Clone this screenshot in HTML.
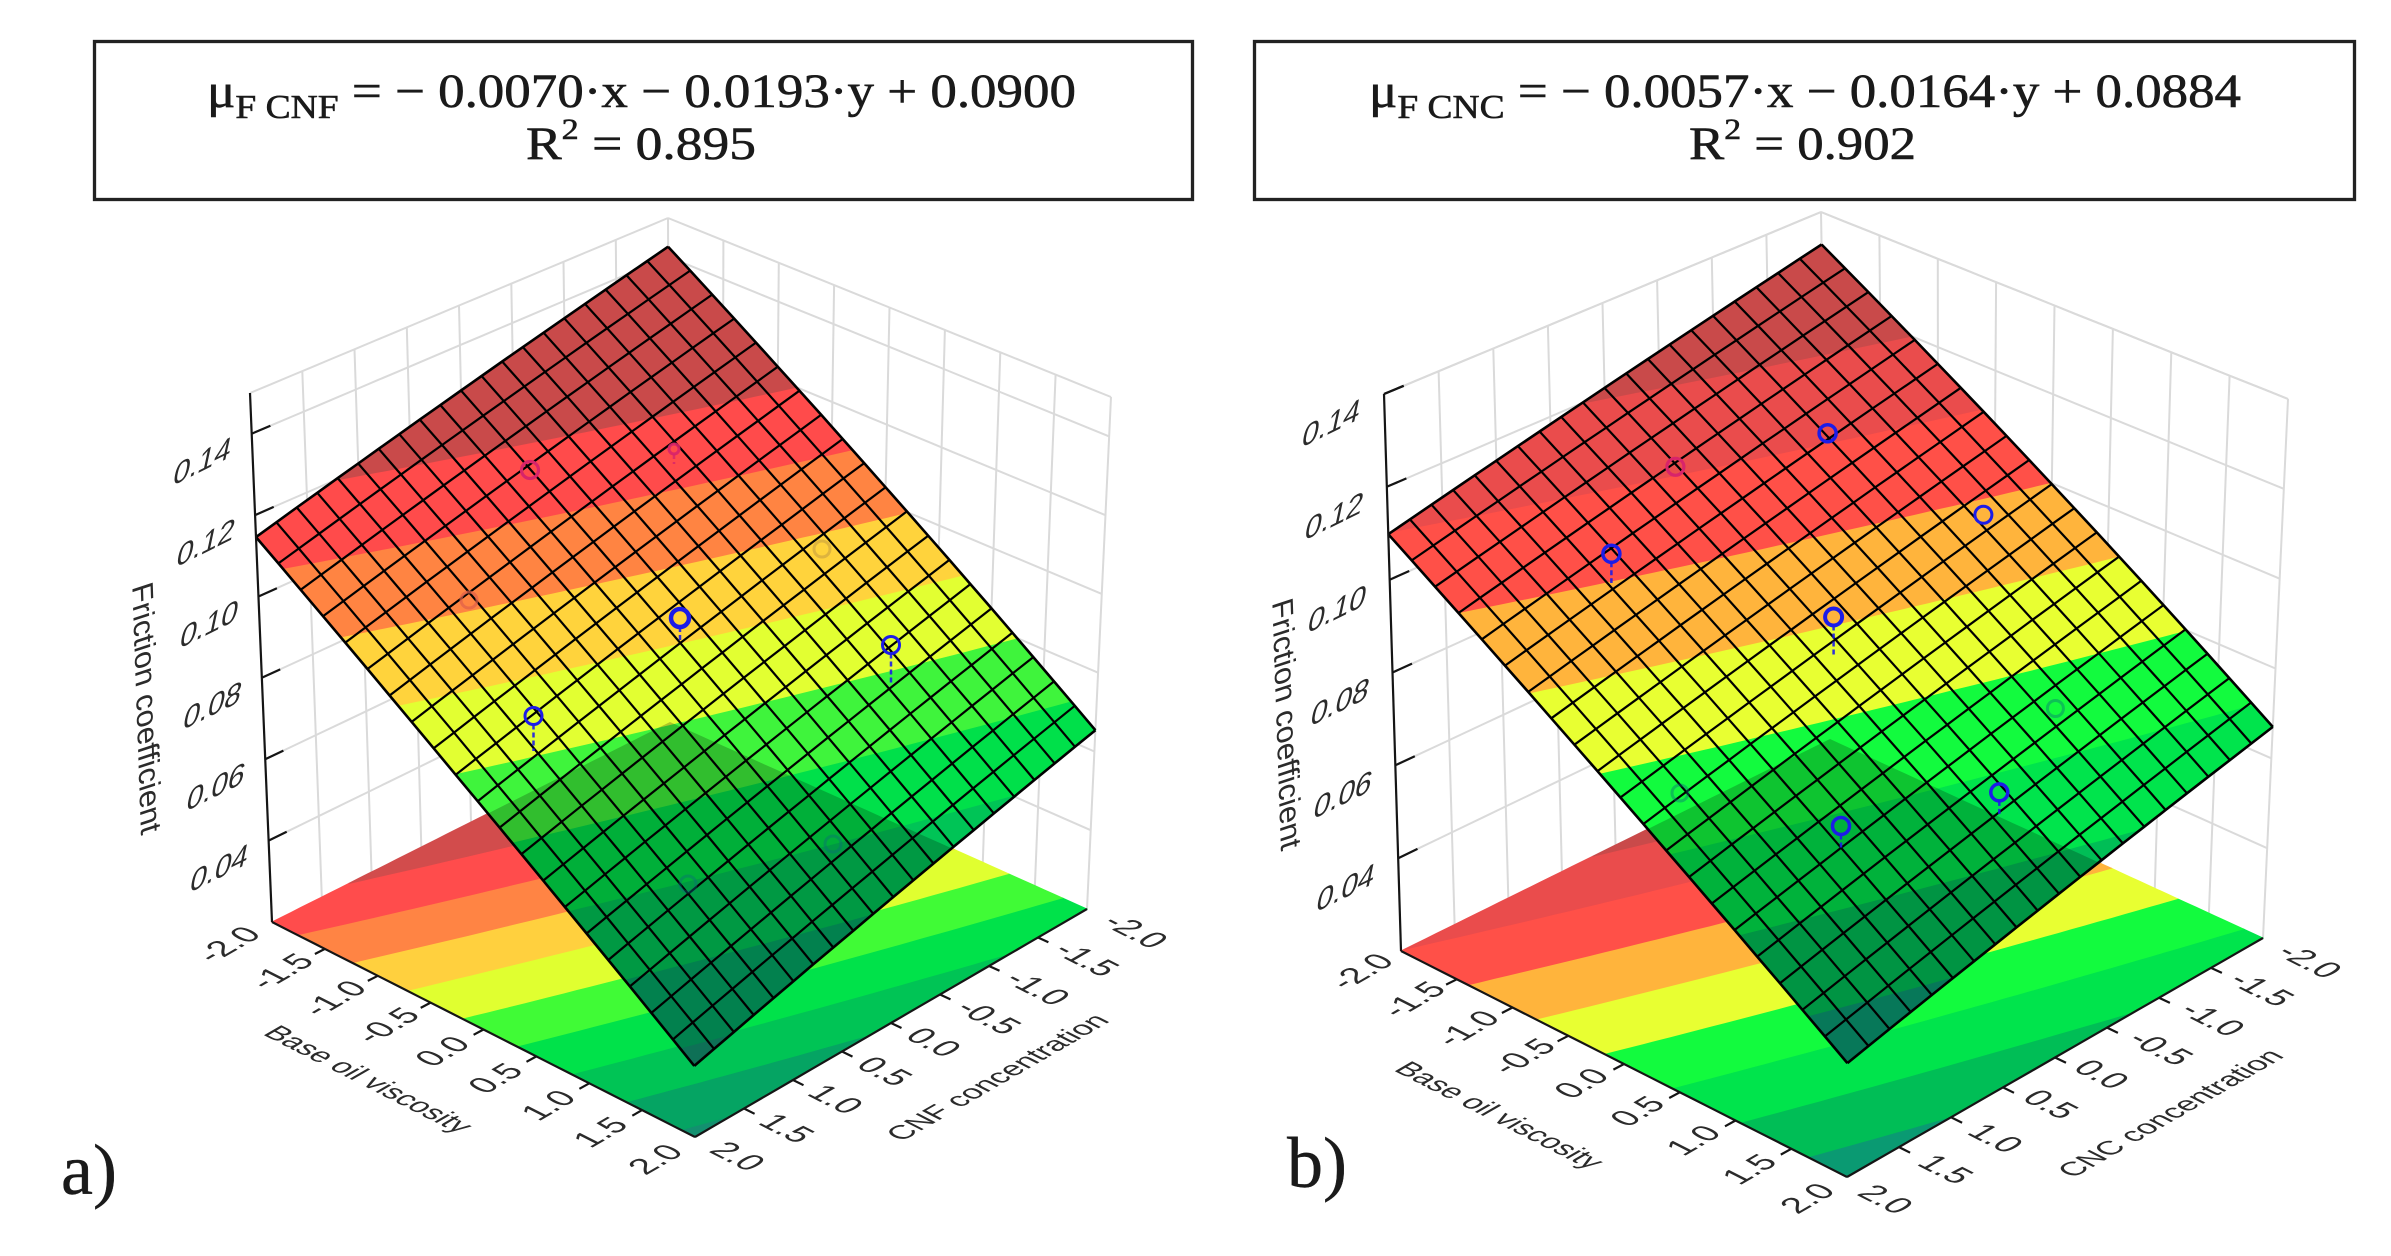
<!DOCTYPE html>
<html><head><meta charset="utf-8">
<style>
html,body{margin:0;padding:0;background:#fff;width:2391px;height:1256px;overflow:hidden;}
svg{display:block}
.tk{font-family:"Liberation Sans",Arial,sans-serif;font-size:33px;fill:#2b2b2b;}
.eq{font-family:"Liberation Serif","Times New Roman",serif;fill:#1a1a1a;stroke:#1a1a1a;stroke-width:0.6;white-space:pre;}
</style></head>
<body>
<svg id="s" width="2391" height="1256" viewBox="0 0 2391 1256" xmlns="http://www.w3.org/2000/svg">
<rect x="0" y="0" width="2391" height="1256" fill="#fff"/>
<g id="plotA"></g>
<g id="plotB"></g>

<!-- Equation boxes -->
<rect x="94.5" y="41.5" width="1098" height="158" fill="none" stroke="#222" stroke-width="3.3"/>
<rect x="1254.5" y="41.5" width="1100" height="158" fill="none" stroke="#222" stroke-width="3.3"/>
<text class="eq" x="207" y="107" font-size="48" textLength="869" lengthAdjust="spacingAndGlyphs">μ<tspan font-size="34" dy="11">F CNF</tspan><tspan dy="-11"> = − 0.0070·x − 0.0193·y + 0.0900</tspan></text>
<text class="eq" x="526" y="159" font-size="47" textLength="230" lengthAdjust="spacingAndGlyphs">R<tspan font-size="30" dy="-20">2</tspan><tspan dy="20"> = 0.895</tspan></text>
<text class="eq" x="1369" y="107" font-size="48" textLength="872" lengthAdjust="spacingAndGlyphs">μ<tspan font-size="34" dy="11">F CNC</tspan><tspan dy="-11"> = − 0.0057·x − 0.0164·y + 0.0884</tspan></text>
<text class="eq" x="1689" y="159" font-size="47" textLength="227" lengthAdjust="spacingAndGlyphs">R<tspan font-size="30" dy="-20">2</tspan><tspan dy="20"> = 0.902</tspan></text>

<!-- panel labels -->
<text class="eq" x="61" y="1194" font-size="72" style="stroke-width:0.4">a)</text>
<text class="eq" x="1287" y="1187" font-size="72" style="stroke-width:0.4">b)</text>

<g id="labels" text-anchor="middle">
<!-- Panel A z tick labels -->
<text class="tk za" x="219.6" y="867.6" dy="0.35em">0.04</text>
<text class="tk za" x="216.2" y="786.2" dy="0.35em">0.06</text>
<text class="tk za" x="212.8" y="704.9" dy="0.35em">0.08</text>
<text class="tk za" x="209.5" y="623.5" dy="0.35em">0.10</text>
<text class="tk za" x="206.1" y="542.1" dy="0.35em">0.12</text>
<text class="tk za" x="202.7" y="460.7" dy="0.35em">0.14</text>
<text class="tk fr" x="147" y="708" dy="0.35em" style="font-size:31px">Friction coefficient</text>

<!-- Panel A viscosity ticks -->
<text class="tk ma" x="228" y="944" dy="0.35em">-2.0</text>
<text class="tk ma" x="281" y="971" dy="0.35em">-1.5</text>
<text class="tk ma" x="334" y="998" dy="0.35em">-1.0</text>
<text class="tk ma" x="387" y="1025" dy="0.35em">-0.5</text>
<text class="tk ma" x="442" y="1051" dy="0.35em">0.0</text>
<text class="tk ma" x="495" y="1078" dy="0.35em">0.5</text>
<text class="tk ma" x="548" y="1105" dy="0.35em">1.0</text>
<text class="tk ma" x="600" y="1132" dy="0.35em">1.5</text>
<text class="tk ma" x="655" y="1159" dy="0.35em">2.0</text>
<text class="tk mb" x="369" y="1079" dy="0.35em" style="font-size:29px">Base oil viscosity</text>

<!-- Panel A CNF ticks -->
<text class="tk mb" x="738" y="1156" dy="0.35em">2.0</text>
<text class="tk mb" x="787" y="1128" dy="0.35em">1.5</text>
<text class="tk mb" x="836" y="1099" dy="0.35em">1.0</text>
<text class="tk mb" x="885" y="1071" dy="0.35em">0.5</text>
<text class="tk mb" x="934" y="1042" dy="0.35em">0.0</text>
<text class="tk mb" x="989" y="1017" dy="0.35em">-0.5</text>
<text class="tk mb" x="1038" y="988" dy="0.35em">-1.0</text>
<text class="tk mb" x="1087" y="959" dy="0.35em">-1.5</text>
<text class="tk mb" x="1136" y="931" dy="0.35em">-2.0</text>
<text class="tk ma" x="997" y="1077" dy="0.35em" style="font-size:29px">CNF concentration</text>

<!-- Panel B z tick labels -->
<text class="tk zb" x="1346.1" y="887.1" dy="0.35em">0.04</text>
<text class="tk zb" x="1343.2" y="794.2" dy="0.35em">0.06</text>
<text class="tk zb" x="1340.3" y="701.3" dy="0.35em">0.08</text>
<text class="tk zb" x="1337.4" y="608.4" dy="0.35em">0.10</text>
<text class="tk zb" x="1334.5" y="515.5" dy="0.35em">0.12</text>
<text class="tk zb" x="1331.6" y="422.6" dy="0.35em">0.14</text>
<text class="tk fr" x="1287" y="724" dy="0.35em" style="font-size:31px">Friction coefficient</text>

<!-- Panel B viscosity ticks -->
<text class="tk ma" x="1361" y="971" dy="0.35em">-2.0</text>
<text class="tk ma" x="1413" y="999" dy="0.35em">-1.5</text>
<text class="tk ma" x="1467" y="1028" dy="0.35em">-1.0</text>
<text class="tk ma" x="1523" y="1056" dy="0.35em">-0.5</text>
<text class="tk ma" x="1581" y="1083" dy="0.35em">0.0</text>
<text class="tk ma" x="1637" y="1111" dy="0.35em">0.5</text>
<text class="tk ma" x="1693" y="1140" dy="0.35em">1.0</text>
<text class="tk ma" x="1749" y="1169" dy="0.35em">1.5</text>
<text class="tk ma" x="1807" y="1198" dy="0.35em">2.0</text>
<text class="tk mc" x="1500" y="1115" dy="0.35em" style="font-size:29px">Base oil viscosity</text>

<!-- Panel B CNC ticks -->
<text class="tk mc" x="1886" y="1199" dy="0.35em">2.0</text>
<text class="tk mc" x="1946" y="1169" dy="0.35em">1.5</text>
<text class="tk mc" x="1996" y="1138" dy="0.35em">1.0</text>
<text class="tk mc" x="2051" y="1104" dy="0.35em">0.5</text>
<text class="tk mc" x="2102" y="1074" dy="0.35em">0.0</text>
<text class="tk mc" x="2161" y="1048" dy="0.35em">-0.5</text>
<text class="tk mc" x="2213" y="1019" dy="0.35em">-1.0</text>
<text class="tk mc" x="2262" y="989" dy="0.35em">-1.5</text>
<text class="tk mc" x="2310" y="961" dy="0.35em">-2.0</text>
<text class="tk md" x="2170" y="1113" dy="0.35em" style="font-size:29px">CNC concentration</text>
</g>
</svg>

<script>
(function(){
var NS='http://www.w3.org/2000/svg';
function mk(tag,attrs,parent){var e=document.createElementNS(NS,tag);for(var k in attrs)e.setAttribute(k,attrs[k]);parent.appendChild(e);return e;}
function bl(Q,u,v){
  var w0=(1-u)*(1-v),w1=u*(1-v),w2=(1-u)*v,w3=u*v;
  return [Q[0][0]*w0+Q[1][0]*w1+Q[2][0]*w2+Q[3][0]*w3, Q[0][1]*w0+Q[1][1]*w1+Q[2][1]*w2+Q[3][1]*w3];
}
function P(c,x,y,z){
  var u=(x+2)/4,v=(y+2)/4;var f=bl(c.F,u,v),t=bl(c.T,u,v);
  var s=(z-c.zmin)/(c.zmax-c.zmin);
  return [f[0]+(t[0]-f[0])*s,f[1]+(t[1]-f[1])*s];
}
function densify(poly){
  var out=[];
  for(var i=0;i<poly.length;i++){
    var a=poly[i],b=poly[(i+1)%poly.length];
    var L=Math.hypot(b[0]-a[0],b[1]-a[1]);var n=Math.max(1,Math.ceil(L/0.1));
    for(var k=0;k<n;k++)out.push([a[0]+(b[0]-a[0])*k/n,a[1]+(b[1]-a[1])*k/n]);
  }
  return out;
}
function fmt(p){return p[0].toFixed(1)+','+p[1].toFixed(1);}
function closed(pts){return 'M'+pts.map(fmt).join('L')+'Z';}
function open(pts){return 'M'+pts.map(fmt).join('L');}
function clip(poly,fn,c,ge){
  var out=[];
  for(var i=0;i<poly.length;i++){
    var a=poly[i],b=poly[(i+1)%poly.length];
    var fa=fn(a)-c,fb=fn(b)-c;
    var ina=ge?fa>=0:fa<=0, inb=ge?fb>=0:fb<=0;
    if(ina)out.push(a);
    if(ina!==inb){var t=fa/(fa-fb);out.push([a[0]+(b[0]-a[0])*t,a[1]+(b[1]-a[1])*t]);}
  }
  return out;
}
function draw(c){
  var g=document.getElementById(c.id);
  var zf=function(x,y){return c.a+c.bx*x+c.by*y;};
  var sq=[[-2,-2],[2,-2],[2,2],[-2,2]];
  var defs=mk('defs',{},g);
  var x,y,k,j,t;
  // walls
  var wg=mk('g',{stroke:'#dadada','stroke-width':2,fill:'none'},g);
  for(x=-1.5;x<=1.51;x+=0.5)mk('path',{d:open([P(c,x,-2,c.zmin),P(c,x,-2,c.zmax)])},wg);
  for(y=-1.5;y<=1.51;y+=0.5)mk('path',{d:open([P(c,-2,y,c.zmin),P(c,-2,y,c.zmax)])},wg);
  var zs=c.ticks.concat([c.zmax]);
  zs.forEach(function(z){
    var a=[],b=[];
    for(var q=0;q<=20;q++){a.push(P(c,2-0.2*q,-2,z));b.push(P(c,-2,-2+0.2*q,z));}
    mk('path',{d:open(a)},wg);mk('path',{d:open(b)},wg);
  });
  mk('path',{d:open([P(c,-2,-2,c.zmin),P(c,-2,-2,c.zmax)])},wg);
  mk('path',{d:open([P(c,-2,2,c.zmin),P(c,-2,2,c.zmax)])},wg);
  // bands
  var bands=[];var th=c.th;
  for(var i=0;i<=th.length;i++){
    var p=sq.slice();
    if(i>0)p=clip(p,function(q){return zf(q[0],q[1]);},th[i-1],true);
    if(i<th.length&&p.length)p=clip(p,function(q){return zf(q[0],q[1]);},th[i],false);
    if(p.length<3)continue;
    bands.push([i,densify(p)]);
  }
  var fg=mk('g',{},g);
  bands.forEach(function(b){
    mk('path',{d:closed(b[1].map(function(q){return P(c,q[0],q[1],c.zmin);})),fill:c.fcol[b[0]],stroke:c.fcol[b[0]],'stroke-width':1},fg);
  });
  var sg=mk('g',{},g);
  bands.forEach(function(b){
    mk('path',{d:closed(b[1].map(function(q){return P(c,q[0],q[1],zf(q[0],q[1]));})),fill:c.scol[b[0]],stroke:c.scol[b[0]],'stroke-width':1},sg);
  });
  // overlap darkening
  var cid=c.id+'cl';
  var cp=mk('clipPath',{id:cid},defs);
  var dsq=densify(sq);
  mk('path',{d:closed(dsq.map(function(q){return P(c,q[0],q[1],c.zmin);}))},cp);
  mk('path',{d:closed(dsq.map(function(q){return P(c,q[0],q[1],zf(q[0],q[1]));})),fill:'#000','fill-opacity':0.22,'clip-path':'url(#'+cid+')'},g);
  // grid
  var gg=mk('g',{stroke:'#000','stroke-width':2.2,fill:'none','stroke-linejoin':'round'},g);
  for(k=0;k<=20;k++){
    t=-2+0.2*k;var a=[],b=[];
    for(j=0;j<=20;j++){var s=-2+0.2*j;a.push(P(c,t,s,zf(t,s)));b.push(P(c,s,t,zf(s,t)));}
    var w=(k===0||k===20)?2.6:2.2;
    mk('path',{d:open(a),'stroke-width':w},gg);mk('path',{d:open(b),'stroke-width':w},gg);
  }
  // points
  var pg=mk('g',{fill:'none'},g);
  c.pts.forEach(function(pt){
    var col=pt.c||'#1c1ce8',op=pt.o||1,r=pt.r||8.5,sw=pt.w||3;
    mk('circle',{cx:pt.x,cy:pt.y,r:r,stroke:col,'stroke-width':sw,'stroke-opacity':op},pg);
    if(pt.s)mk('line',{x1:pt.x,y1:pt.y+r,x2:pt.x,y2:pt.s,stroke:col,'stroke-width':2.5,'stroke-dasharray':'5,3','stroke-opacity':op*0.9},pg);
  });
  // axes
  var ag=mk('g',{stroke:'#151515','stroke-width':2.2,fill:'none'},g);
  mk('path',{d:open([P(c,2,-2,c.zmin),P(c,2,-2,c.zmax)])},ag);
  c.ticks.forEach(function(z){mk('path',{d:open([P(c,2,-2,z),P(c,1.82,-2,z)])},ag);});
  if(c.capTick)mk('path',{d:open([P(c,2,-2,c.zmax),P(c,1.82,-2,c.zmax)])},ag);
  var e1=[],e2=[];
  for(k=0;k<=20;k++){e1.push(P(c,2,-2+0.2*k,c.zmin));e2.push(P(c,2-0.2*k,2,c.zmin));}
  mk('path',{d:open(e1)},ag);mk('path',{d:open(e2)},ag);
  for(t=-1.5;t<=1.51;t+=0.5){
    mk('path',{d:open([P(c,2,t,c.zmin),P(c,2.1,t,c.zmin)])},ag);
    mk('path',{d:open([P(c,t,2,c.zmin),P(c,t,2.1,c.zmin)])},ag);
  }
}
var TH=[0.04,0.05,0.06,0.07,0.08,0.09,0.10,0.11,0.12];
var cA=['#13906f','#03a664','#00c456','#00e04a','#3ff43c','#e2ff32','#ffd33c','#ff8442','#ff4b4b','#c94a4a'];
var cAf=['#13906f','#05a463','#00c455','#00e24a','#40fb36','#e0ff30','#ffd03e','#ff8444','#ff4c4c','#d24c4c'];
var cB=['#13906f','#0a9a72','#00be56','#00e44c','#12fb3e','#e8ff32','#ffb43c','#ff5048','#ea4c4c','#c94a4a'];
draw({id:'plotA',a:0.09,bx:-0.007,by:-0.0193,zmin:0.02,zmax:0.15,
  ticks:[0.04,0.06,0.08,0.10,0.12,0.14],th:TH,
  F:[[670,722],[272,922],[1087,909],[695,1137]],
  T:[[668,218],[250,393],[1111,397],[690,606]],
  fcol:cAf,scol:cA,
  pts:[
   {x:530,y:470,c:'#d8246a',o:1,r:8.5,w:3.2},
   {x:674,y:449,c:'#d8246a',o:0.9,r:5,w:3,s:464},
   {x:469,y:600,c:'#e0604a',o:0.7,r:8},
   {x:822,y:549,c:'#c8a040',o:0.6,r:8},
   {x:680,y:618,r:9,w:4.5,s:640},
   {x:533.5,y:716,s:751},
   {x:891,y:645,s:685},
   {x:688,y:884,c:'#0a6a7a',o:0.4,r:8},
   {x:833,y:844,c:'#0a6a7a',o:0.4,r:8}
  ]});
draw({id:'plotB',a:0.0884,bx:-0.0057,by:-0.0164,zmin:0.02,zmax:0.14,capTick:true,
  ticks:[0.04,0.06,0.08,0.10,0.12,0.14],th:TH,
  F:[[1830,739],[1401,951],[2263,938],[1847,1177]],
  T:[[1821,212],[1384,394],[2288,399],[1849,612]],
  fcol:cB,scol:cB,
  pts:[
   {x:1827.6,y:433.2,w:3.5},
   {x:1675.4,y:466.8,c:'#d8246a',o:1,w:3.2},
   {x:1611.4,y:553.8,w:3.5,s:583},
   {x:1833.6,y:617,w:4,s:656},
   {x:1983.4,y:514.8},
   {x:1999.3,y:792.4,w:3.5,s:816},
   {x:1841,y:826,w:3.5,s:848},
   {x:2055.4,y:708.5,c:'#0a6a7a',o:0.4,r:8},
   {x:1680,y:793,c:'#0a6a7a',o:0.4,r:8}
  ]});

// label transforms (rotation/shear about each label's own centre)
var M={za:[0.895,-0.446,-0.208,0.978], zb:[0.897,-0.443,-0.208,0.978],
       ma:[0.866,-0.5,0.891,0.453], mb:[0.891,0.453,-0.866,0.5],
       mc:[0.892,0.452,-0.867,0.498], md:[0.867,-0.498,0.892,0.452],
       fr:[0.035,1,-0.95,0.31]};
var texts=document.getElementById('labels').getElementsByTagName('text');
for(var i=0;i<texts.length;i++){
  var el=texts[i];var cls=(el.getAttribute('class')||'').split(/\s+/);
  var m=null;for(var j=0;j<cls.length;j++){if(M[cls[j]]){m=M[cls[j]];break;}}
  if(!m)continue;
  var x=parseFloat(el.getAttribute('x')),y=parseFloat(el.getAttribute('y'));
  var e=x-m[0]*x-m[2]*y,f=y-m[1]*x-m[3]*y;
  el.setAttribute('transform','matrix('+m[0]+','+m[1]+','+m[2]+','+m[3]+','+e.toFixed(2)+','+f.toFixed(2)+')');
}
})();
</script>
</body></html>
